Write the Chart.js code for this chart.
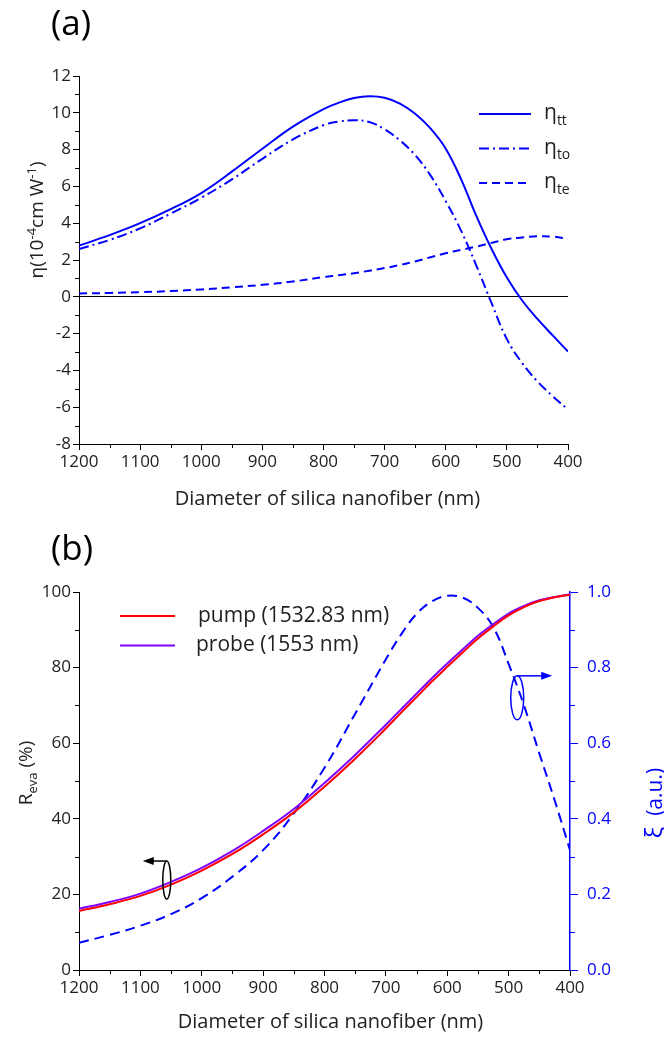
<!DOCTYPE html>
<html lang="en">
<head>
<meta charset="UTF-8">
<title>Silica nanofiber</title>
<script src="https://cdn.jsdelivr.net/npm/chart.js"></script>
<style>
    body { margin: 0; background: #fff; }
    .box { position: absolute; left: 0; width: 664px; }
    #boxA { top: 0; height: 520px; }
    #boxB { top: 520px; height: 523px; }
</style>
</head>
<body>
<div class="box" id="boxA"><canvas id="chartA" width="664" height="520"></canvas></div>
<div class="box" id="boxB"><canvas id="chartB" width="664" height="523"></canvas></div>
<script>
// (a) nonlinear coefficient vs diameter
const diamA  = [1200, 1150, 1100, 1050, 1000, 950, 900, 850, 800, 775, 750, 725, 700, 675, 650, 625, 600, 575, 550, 525, 500, 475, 450, 425, 400];
const etaTT  = [2.78, 3.35, 4.0, 4.76, 5.64, 6.8, 8.05, 9.25, 10.2, 10.55, 10.8, 10.9, 10.82, 10.5, 9.95, 9.15, 8.05, 6.4, 4.4, 2.6, 1.05, -0.2, -1.2, -2.1, -2.97];
const etaTO  = [2.6, 3.09, 3.72, 4.52, 5.38, 6.38, 7.5, 8.55, 9.33, 9.52, 9.6, 9.5, 9.1, 8.5, 7.7, 6.6, 5.2, 3.6, 1.7, -0.35, -2.3, -3.6, -4.6, -5.4, -6.13];
const etaTE  = [0.18, 0.21, 0.25, 0.31, 0.4, 0.52, 0.65, 0.83, 1.07, 1.17, 1.28, 1.42, 1.56, 1.73, 1.92, 2.15, 2.37, 2.55, 2.73, 2.93, 3.13, 3.22, 3.29, 3.27, 3.15];
const legendA = ['tt', 'to', 'te'];

// (b) evanescent power fraction and xi vs diameter
const diamB  = [1200, 1150, 1100, 1050, 1000, 950, 900, 850, 800, 750, 700, 675, 650, 625, 600, 575, 550, 525, 500, 475, 450, 425, 400];
const pump   = [15.6, 17.4, 19.6, 22.6, 26.3, 30.7, 35.9, 41.7, 48.5, 55.9, 63.9, 68.1, 72.2, 76.3, 80.2, 84.0, 87.7, 90.9, 93.8, 96.0, 97.6, 98.6, 99.3];
const probe  = [16.2, 18.0, 20.2, 23.3, 27.0, 31.5, 36.8, 42.6, 49.5, 56.9, 64.9, 69.0, 73.1, 77.2, 81.1, 84.8, 88.4, 91.5, 94.3, 96.3, 97.8, 98.7, 99.4];
const xi     = [0.072, 0.093, 0.117, 0.148, 0.19, 0.247, 0.317, 0.414, 0.535, 0.678, 0.822, 0.888, 0.942, 0.975, 0.99, 0.985, 0.958, 0.907, 0.81, 0.70, 0.573, 0.449, 0.317];
const legendB = ['pump (1532.83 nm)', 'probe (1553 nm)'];

const FONT = "'Open Sans', sans-serif";
const TXT = '#222';
const BLUE = '#0000ff';

function pts(xs, ys) { return xs.map((x, i) => ({ x: x, y: ys[i] })); }

// draw text made of pieces: [text, 'n'|'sub'|'sup'|'big']
function richText(ctx, parts, x, y, size, align) {
    const sz = k => (k === 'n' ? size : k === 'big' ? Math.round(size * 1.15) : Math.round(size * 0.68));
    let w = 0;
    parts.forEach(p => {
        ctx.font = sz(p[1]) + 'px ' + FONT;
        w += ctx.measureText(p[0]).width;
    });
    let cx = align === 'center' ? x - w / 2 : x;
    ctx.textAlign = 'left';
    ctx.textBaseline = 'alphabetic';
    parts.forEach(p => {
        ctx.font = sz(p[1]) + 'px ' + FONT;
        let dy = 0;
        if (p[1] === 'sub') dy = size * 0.28;
        if (p[1] === 'sup') dy = -size * 0.38;
        ctx.fillText(p[0], cx, y + dy);
        cx += ctx.measureText(p[0]).width;
    });
}

function minorTicks(chart, id, from, to, step, len, color) {
    const s = chart.scales[id], ctx = chart.ctx;
    ctx.save();
    ctx.strokeStyle = color;
    ctx.lineWidth = 1;
    ctx.beginPath();
    for (let v = from; v <= to + 1e-9; v += step) {
        const p = Math.round(s.getPixelForValue(v)) + 0.5;
        if (s.isHorizontal()) {
            const t = Math.round(s.top);
            ctx.moveTo(p, t); ctx.lineTo(p, t + len);
        } else if (s.position === 'left') {
            const r = Math.round(s.right);
            ctx.moveTo(r, p); ctx.lineTo(r - len, p);
        } else {
            const l = Math.round(s.left);
            ctx.moveTo(l, p); ctx.lineTo(l + len, p);
        }
    }
    ctx.stroke();
    ctx.restore();
}

function xAxis(h) {
    return {
        type: 'linear', reverse: true, min: 400, max: 1200,
        afterFit: s => { s.height = h; },
        border: { color: '#000', width: 1 },
        grid: { drawOnChartArea: false, tickLength: 6, tickColor: '#000' },
        ticks: { stepSize: 100, color: TXT, padding: 2, maxRotation: 0,
                 font: { family: FONT, size: 17 }, callback: v => String(v) }
    };
}

// ---------- chart (a) ----------
const decorA = {
    id: 'decorA',
    afterDraw(chart) {
        const ctx = chart.ctx, a = chart.chartArea;
        minorTicks(chart, 'y', -7, 11, 2, 4, '#000');
        minorTicks(chart, 'x', 450, 1150, 100, 4, '#000');
        ctx.save();
        ctx.fillStyle = '#000';
        ctx.font = '35px ' + FONT;
        ctx.textAlign = 'left'; ctx.textBaseline = 'middle';
        ctx.fillText('(a)', 51, 25);
        ctx.fillStyle = TXT;
        ctx.font = '20px ' + FONT;
        ctx.textAlign = 'center'; ctx.textBaseline = 'middle';
        ctx.fillText('Diameter of silica nanofiber (nm)', (a.left + a.right) / 2 + 4, 499);
        ctx.save();
        ctx.translate(43, 220);
        ctx.rotate(-Math.PI / 2);
        richText(ctx, [['η(10', 'n'], ['-4', 'sup'], ['cm W', 'n'], ['-1', 'sup'], [')', 'n']], 0, 0, 19, 'center');
        ctx.restore();
        // legend
        chart.data.datasets.forEach((ds, i) => {
            const y = a.top + 38 + i * 34.5;
            ctx.save();
            ctx.strokeStyle = ds.borderColor;
            ctx.lineWidth = 2;
            ctx.setLineDash(ds.borderDash || []);
            ctx.beginPath();
            ctx.moveTo(479, y); ctx.lineTo(531, y);
            ctx.stroke();
            ctx.restore();
            ctx.fillStyle = TXT;
            richText(ctx, [['η', 'n'], [legendA[i], 'sub']], 544, y + 5, 21, 'left');
        });
        ctx.restore();
    }
};

new Chart(document.getElementById('chartA'), {
    type: 'line',
    data: {
        datasets: [
            { data: pts(diamA, etaTT), borderColor: BLUE, borderWidth: 2 },
            { data: pts(diamA, etaTO), borderColor: BLUE, borderWidth: 2, borderDash: [10, 4, 2, 4] },
            { data: pts(diamA, etaTE), borderColor: BLUE, borderWidth: 2, borderDash: [8, 5] }
        ]
    },
    options: {
        responsive: false, animation: false, devicePixelRatio: 1,
        layout: { padding: { left: 0, right: 96, top: 76, bottom: 0 } },
        elements: { point: { radius: 0 }, line: { tension: 0.4 } },
        plugins: { legend: { display: false }, tooltip: { enabled: false } },
        scales: {
            x: xAxis(76),
            y: {
                min: -8, max: 12,
                afterFit: s => { s.width = 79; },
                border: { color: '#000', width: 1 },
                grid: {
                    color: c => (c.tick && c.tick.value === 0 ? '#000' : 'rgba(0,0,0,0)'),
                    tickLength: 6, tickColor: '#000'
                },
                ticks: { stepSize: 2, color: TXT, padding: 2, font: { family: FONT, size: 17 } }
            }
        }
    },
    plugins: [decorA]
});

// ---------- chart (b) ----------
function ringArrow(ctx, cx, cy, rx, ry, dir, len, color) {
    ctx.save();
    ctx.strokeStyle = color; ctx.fillStyle = color; ctx.lineWidth = 1.5;
    ctx.beginPath();
    ctx.ellipse(cx, cy, rx, ry, 0, 0, Math.PI * 2);
    ctx.stroke();
    const y = cy - ry, x2 = cx + dir * len;
    ctx.beginPath();
    ctx.moveTo(cx, y); ctx.lineTo(x2 - dir * 8, y);
    ctx.stroke();
    ctx.beginPath();
    ctx.moveTo(x2, y); ctx.lineTo(x2 - dir * 11, y - 4); ctx.lineTo(x2 - dir * 11, y + 4);
    ctx.closePath(); ctx.fill();
    ctx.restore();
}

const decorB = {
    id: 'decorB',
    afterDraw(chart) {
        const ctx = chart.ctx, a = chart.chartArea, sx = chart.scales.x;
        minorTicks(chart, 'y', 10, 90, 20, 4, '#000');
        minorTicks(chart, 'y1', 0.1, 0.9, 0.2, 5, BLUE);
        minorTicks(chart, 'x', 450, 1150, 100, 4, '#000');
        ctx.save();
        ctx.fillStyle = '#000';
        ctx.font = '35px ' + FONT;
        ctx.textAlign = 'left'; ctx.textBaseline = 'middle';
        ctx.fillText('(b)', 51, 30);
        ctx.fillStyle = TXT;
        ctx.font = '20px ' + FONT;
        ctx.textAlign = 'center'; ctx.textBaseline = 'middle';
        ctx.fillText('Diameter of silica nanofiber (nm)', (a.left + a.right) / 2 + 6, 502);
        ctx.save();
        ctx.translate(32, 253);
        ctx.rotate(-Math.PI / 2);
        richText(ctx, [['R', 'n'], ['eva', 'sub'], [' (%)', 'n']], 0, 0, 19, 'center');
        ctx.restore();
        ctx.save();
        ctx.fillStyle = BLUE;
        ctx.translate(662, 283);
        ctx.rotate(-Math.PI / 2);
        richText(ctx, [['ξ', 'big'], ['  (a.u.)', 'n']], 0, 0, 21, 'center');
        ctx.restore();
        // legend
        chart.data.datasets.slice(0, 2).forEach((ds, i) => {
            const y = 96 + i * 29.5;
            ctx.strokeStyle = ds.borderColor;
            ctx.lineWidth = 2;
            ctx.beginPath();
            ctx.moveTo(120, y); ctx.lineTo(175, y);
            ctx.stroke();
            ctx.fillStyle = TXT;
            ctx.font = '21px ' + FONT;
            ctx.textAlign = 'left'; ctx.textBaseline = 'middle';
            ctx.fillText(legendB[i], i === 0 ? 198 : 196, y);
        });
        // axis markers
        ringArrow(ctx, sx.getPixelForValue(1057), chart.scales.y.getPixelForValue(23.8), 4, 19, -1, 24, '#000');
        ringArrow(ctx, sx.getPixelForValue(486), chart.scales.y1.getPixelForValue(0.72), 6.5, 22, 1, 35, BLUE);
        ctx.restore();
    }
};

new Chart(document.getElementById('chartB'), {
    type: 'line',
    data: {
        datasets: [
            { data: pts(diamB, pump), borderColor: '#ff0000', borderWidth: 2, yAxisID: 'y' },
            { data: pts(diamB, probe), borderColor: '#8000ff', borderWidth: 2, yAxisID: 'y' },
            { data: pts(diamB, xi), borderColor: BLUE, borderWidth: 2, borderDash: [10, 6], yAxisID: 'y1' }
        ]
    },
    options: {
        responsive: false, animation: false, devicePixelRatio: 1,
        layout: { padding: { left: 0, right: 0, top: 72, bottom: 0 } },
        elements: { point: { radius: 0 }, line: { tension: 0.4 } },
        plugins: { legend: { display: false }, tooltip: { enabled: false } },
        scales: {
            x: xAxis(73),
            y: {
                position: 'left', min: 0, max: 100,
                afterFit: s => { s.width = 79; },
                border: { color: '#000', width: 1 },
                grid: { drawOnChartArea: false, tickLength: 6, tickColor: '#000' },
                ticks: { stepSize: 20, color: TXT, padding: 2, font: { family: FONT, size: 17 } }
            },
            y1: {
                position: 'right', min: 0, max: 1,
                afterFit: s => { s.width = 94; },
                border: { color: BLUE, width: 1.5 },
                grid: { drawOnChartArea: false, tickLength: 8, tickColor: BLUE },
                ticks: { stepSize: 0.2, color: BLUE, padding: 9, font: { family: FONT, size: 17 },
                         callback: v => Number(v).toFixed(1) }
            }
        }
    },
    plugins: [decorB]
});
</script>
</body>
</html>
